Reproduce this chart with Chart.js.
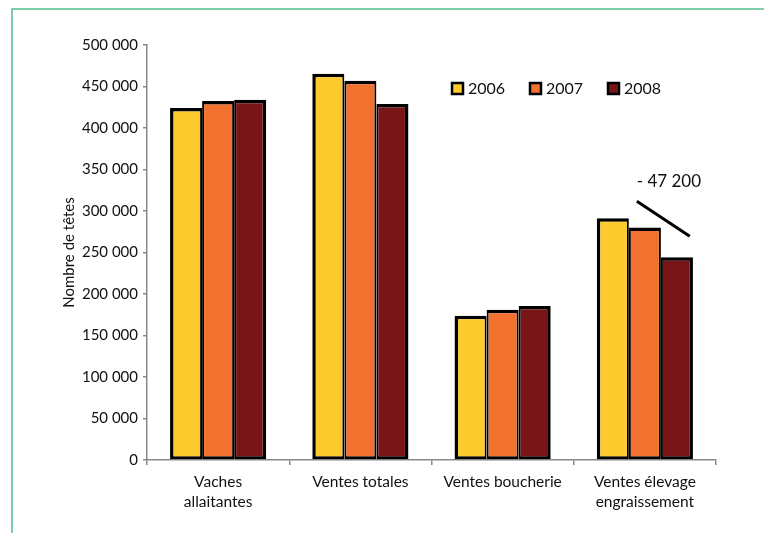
<!DOCTYPE html>
<html>
<head>
<meta charset="utf-8">
<script src="https://cdn.jsdelivr.net/npm/chart.js@4"></script>
<style>
  html, body { margin: 0; padding: 0; background: #fff; }
  #wrap { width: 764px; height: 533px; }
</style>
</head>
<body>
<div id="wrap"><canvas id="chartVaches" width="764" height="533"></canvas></div>
<script>
'use strict';

// data
const categories = [['Vaches', 'allaitantes'], 'Ventes totales', 'Ventes boucherie', ['Ventes élevage', 'engraissement']];
const years = ['2006', '2007', '2008'];
const values2006 = [424000, 465500, 173800, 291400];
const values2007 = [432500, 457000, 181000, 280000];
const values2008 = [434000, 429000, 185500, 244200];
const yTicks = [0, 50000, 100000, 150000, 200000, 250000, 300000, 350000, 400000, 450000, 500000];

const COLORS = ['#FDCB2E', '#F2712E', '#7A1517'];
const FONT = 'Lato, "Open Sans", sans-serif';
const TEXT = '#111';

function formatNumber(v) {
    return String(v).replace(/\B(?=(\d{3})+(?!\d))/g, ' ');
}

// green frame of the page
const framePlugin = {
    id: 'frame',
    beforeDraw(chart) {
        const ctx = chart.ctx;
        ctx.save();
        ctx.strokeStyle = '#55bf8e';
        ctx.lineWidth = 1.5;
        ctx.beginPath();
        ctx.moveTo(chart.width, 9);
        ctx.lineTo(12, 9);
        ctx.lineTo(12, chart.height);
        ctx.stroke();
        ctx.restore();
    }
};

// legend inside the plot area
const legendPlugin = {
    id: 'innerLegend',
    afterDraw(chart) {
        const ctx = chart.ctx;
        const area = chart.chartArea;
        let x = area.left + 305;
        const y = area.top + 38;
        ctx.save();
        ctx.font = '16px ' + FONT;
        ctx.textBaseline = 'middle';
        chart.data.datasets.forEach(function (ds) {
            ctx.fillStyle = ds.backgroundColor;
            ctx.fillRect(x, y, 11, 11);
            ctx.strokeStyle = '#000';
            ctx.lineWidth = 2.5;
            ctx.strokeRect(x, y, 11, 11);
            ctx.fillStyle = TEXT;
            ctx.fillText(ds.label, x + 16, y + 6);
            x += 78;
        });
        ctx.restore();
    }
};

// "- 47 200" annotation over the last group
const dropPlugin = {
    id: 'drop',
    afterDatasetsDraw(chart) {
        const ctx = chart.ctx;
        const xs = chart.scales.x;
        const ys = chart.scales.y;
        const last = categories.length - 1;
        const bar = chart.getDatasetMeta(0).data[last];
        const barW = bar.width;
        const cx = xs.getPixelForValue(last);
        const x1 = cx - 0.25 * barW;
        const y1 = ys.getPixelForValue(values2006[last]) - 17;
        const x2 = cx + 1.4 * barW;
        const y2 = ys.getPixelForValue(values2008[last]) - 21;
        ctx.save();
        ctx.strokeStyle = '#000';
        ctx.lineWidth = 3;
        ctx.beginPath();
        ctx.moveTo(x1, y1);
        ctx.lineTo(x2, y2);
        ctx.stroke();
        ctx.font = '17px ' + FONT;
        ctx.fillStyle = TEXT;
        ctx.textAlign = 'center';
        ctx.textBaseline = 'middle';
        ctx.fillText('- ' + formatNumber(values2006[last] - values2008[last]), cx + 24, y1 - 20);
        ctx.restore();
    }
};

const borders = [
    { top: 3.5, bottom: 3, left: 3.5, right: 2 },
    { top: 3.5, bottom: 3, left: 2, right: 2 },
    { top: 3.5, bottom: 3, left: 2, right: 3.5 }
];

const data = {
    labels: categories,
    datasets: [values2006, values2007, values2008].map(function (vals, i) {
        return {
            label: years[i],
            data: vals,
            backgroundColor: COLORS[i],
            borderColor: '#000',
            borderWidth: borders[i],
            borderSkipped: false,
            categoryPercentage: 0.676,
            barPercentage: 1.0
        };
    })
};

const config = {
    type: 'bar',
    data,
    options: {
        responsive: false,
        animation: false,
        layout: { padding: { left: 60, top: 45, right: 48, bottom: 0 } },
        plugins: {
            legend: { display: false },
            tooltip: { enabled: false }
        },
        scales: {
            x: {
                grid: { display: true, drawOnChartArea: false, drawTicks: true, tickLength: 5, color: '#888', lineWidth: 1.5 },
                border: { color: '#888', width: 1.5 },
                ticks: { color: TEXT, font: { family: FONT, size: 15.5, lineHeight: 1.3 }, padding: 7, maxRotation: 0 },
                afterFit(scale) { scale.height = 73; }
            },
            y: {
                min: 0,
                max: 500000,
                afterBuildTicks(scale) { scale.ticks = yTicks.map(function (v) { return { value: v }; }); },
                grid: { display: true, drawOnChartArea: false, drawTicks: true, tickLength: 4, color: '#888', lineWidth: 1.5 },
                border: { color: '#888', width: 1.5 },
                ticks: {
                    color: TEXT,
                    font: { family: FONT, size: 15 },
                    padding: 5,
                    callback: function (v) { return formatNumber(v); }
                },
                title: {
                    display: true,
                    text: 'Nombre de têtes',
                    color: TEXT,
                    font: { family: FONT, size: 15 },
                    padding: 0
                },
                afterFit(scale) { scale.width = 87; }
            }
        }
    },
    plugins: [framePlugin, legendPlugin, dropPlugin]
};

var chartVaches = new Chart(document.getElementById('chartVaches'), config);
</script>
</body>
</html>
